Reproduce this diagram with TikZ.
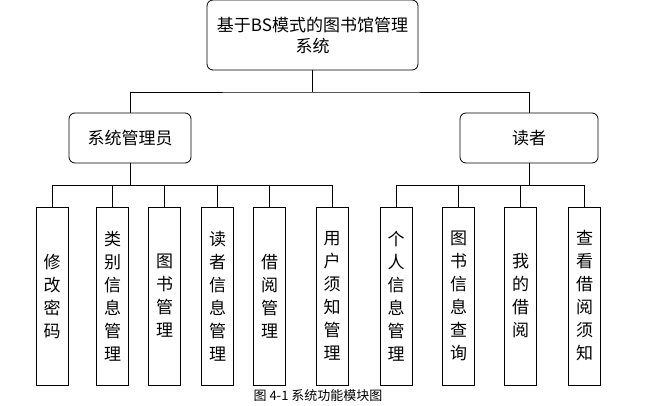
\documentclass[tikz,border=0pt]{standalone}
\usepackage{fontspec}
\setmainfont{Noto Sans CJK SC}
\begin{document}
\begin{tikzpicture}[x=1pt,y=-1pt,
  box/.style={draw,thick,rounded corners=6pt,align=center,font=\fontsize{17}{21}\selectfont},
  leaf/.style={draw,thick,minimum width=32pt,minimum height=178pt,align=center,font=\fontsize{17}{23}\selectfont,inner sep=1pt},
  ln/.style={thick}]
\useasboundingbox (0,0) rectangle (655,405);
\node[box,minimum width=211pt,minimum height=70pt] (root) at (312.5,35) {基于BS模式的图书馆管理\\系统};
\node[box,minimum width=122pt,minimum height=50pt] (adm) at (130,138) {系统管理员};
\node[box,minimum width=138pt,minimum height=50pt] (rdr) at (529,138) {读者};
\draw[ln] (root.south) -- (312.5,92) coordinate (j0);
\draw[ln] (adm.north) |- (j0) -| (rdr.north);
\foreach \n/\x/\t in {a1/52/修\\改\\密\\码,a2/112.5/类\\别\\信\\息\\管\\理,a3/164.5/图\\书\\管\\理,a4/217.5/读\\者\\信\\息\\管\\理,a5/269.5/借\\阅\\管\\理,a6/332/用\\户\\须\\知\\管\\理}{
  \node[leaf] (\n) at (\x,296) {\t};
}
\foreach \n/\x/\t in {b1/396/个\\人\\信\\息\\管\\理,b2/458.5/图\\书\\信\\息\\查\\询,b3/520.5/我\\的\\借\\阅,b4/584.5/查\\看\\借\\阅\\须\\知}{
  \node[leaf] (\n) at (\x,296) {\t};
}
\draw[ln] (adm.south) -- (130,185) coordinate (j1);
\draw[ln] (a1.north) |- (a6.north |- j1) -- (a6.north);
\foreach \n in {a2,a3,a4,a5} \draw[ln] (\n.north) -- (\n.north |- j1);
\draw[ln] (rdr.south) -- (529,185) coordinate (j2);
\draw[ln] (b1.north) |- (b4.north |- j2) -- (b4.north);
\foreach \n in {b2,b3} \draw[ln] (\n.north) -- (\n.north |- j2);
\node[font=\fontsize{13}{15}\selectfont] (cap) at (318,396) {图 4-1 系统功能模块图};
\end{tikzpicture}
\end{document}
